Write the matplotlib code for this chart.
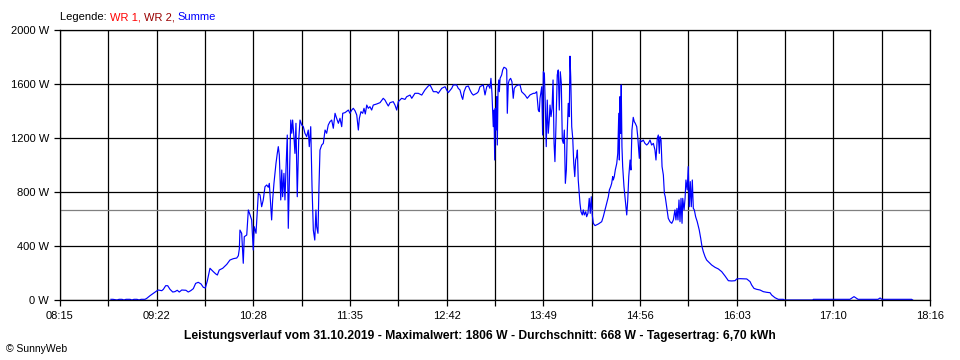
import numpy as np
import matplotlib
matplotlib.use("Agg")
import matplotlib.pyplot as plt

# ---------------- data (time in minutes of day, power in W) ----------------
times_min = [
    530.2, 531.6, 534.4, 535.8, 537.8, 539.2, 540.6, 543.4, 544.7, 546.1, 548.2, 549.6, 551.0, 553.7,
    554.9, 557.2, 559.5, 561.8, 562.9, 565.3, 566.4, 568.0, 569.4, 571.0, 572.9, 574.4, 576.0, 577.4,
    579.1, 582.0, 583.6, 585.3, 587.1, 588.7, 590.5, 592.4, 594.0, 595.4, 596.8, 598.6, 600.9, 602.6,
    603.7, 605.0, 607.4, 610.2, 612.4, 614.7, 617.1, 618.2, 618.9, 619.3, 620.5, 621.6, 622.3, 624.0,
    625.1, 626.3, 627.4, 628.5, 629.2, 630.4, 632.0, 633.2, 634.3, 635.4, 636.6, 637.8, 638.9, 639.6,
    640.6, 641.2, 641.9, 642.8, 644.2, 645.1, 645.8, 646.5, 647.5, 648.2, 648.8, 649.7, 650.4, 651.1,
    652.0, 652.7, 653.4, 654.4, 655.1, 655.7, 656.6, 657.3, 658.0, 658.9, 659.9, 660.8, 662.0, 663.1,
    664.2, 665.4, 666.5, 667.2, 668.2, 669.1, 670.0, 671.0, 671.8, 672.3, 673.2, 673.9, 674.6, 675.8,
    676.9, 678.1, 679.2, 680.3, 681.5, 682.7, 683.8, 685.0, 686.1, 687.3, 688.4, 689.6, 690.3, 691.9,
    694.2, 695.3, 696.5, 697.6, 698.8, 700.0, 701.1, 701.8, 702.9, 704.1, 705.0, 705.9, 706.9, 708.0,
    709.1, 710.3, 711.4, 713.8, 716.1, 718.3, 719.5, 720.7, 721.8, 723.0, 725.2, 726.4, 727.6, 728.7,
    731.0, 733.3, 734.5, 736.8, 738.0, 740.2, 742.5, 744.9, 747.1, 749.4, 750.6, 751.8, 752.9, 755.2,
    756.3, 758.7, 761.0, 762.1, 763.2, 765.6, 766.7, 769.0, 770.1, 771.3, 772.5, 773.2, 774.1, 775.5,
    777.1, 778.2, 779.4, 780.5, 782.9, 784.0, 785.1, 787.4, 788.6, 789.8, 790.9, 792.0, 792.7, 793.4,
    794.3, 794.8, 795.3, 795.7, 796.2, 796.7, 797.1, 797.6, 798.1, 798.5, 799.0, 800.1, 800.8, 801.7,
    803.1, 803.6, 804.0, 804.7, 805.4, 806.3, 807.2, 808.1, 808.8, 810.0, 811.6, 812.8, 813.9, 815.0,
    816.2, 817.8, 819.7, 822.0, 823.1, 824.3, 825.4, 826.1, 826.6, 827.8, 828.4, 828.9, 829.6, 830.2,
    830.9, 831.6, 832.3, 833.0, 833.5, 834.2, 834.9, 835.6, 836.3, 836.9, 837.6, 838.5, 839.2, 839.9,
    840.6, 841.3, 842.0, 842.7, 843.4, 844.1, 844.8, 845.4, 846.1, 846.8, 847.3, 847.8, 848.5, 849.2,
    849.9, 850.6, 851.2, 851.9, 852.4, 853.0, 853.7, 854.2, 854.9, 855.8, 856.5, 857.2, 858.2, 858.8,
    859.7, 860.6, 861.3, 862.0, 862.7, 863.4, 864.6, 866.9, 869.2, 870.3, 871.5, 872.7, 873.8, 874.5,
    875.4, 876.1, 876.8, 877.2, 877.9, 878.6, 879.6, 880.3, 881.0, 881.4, 881.8, 882.3, 882.7, 883.2,
    883.7, 884.6, 885.5, 886.5, 887.2, 887.9, 888.8, 889.4, 890.1, 891.0, 891.7, 892.4, 893.4, 894.1,
    894.8, 895.2, 895.7, 896.8, 897.9, 899.1, 900.3, 901.4, 902.6, 903.7, 904.9, 906.0, 906.7, 907.6,
    908.3, 909.0, 909.5, 910.2, 910.9, 911.8, 912.5, 913.1, 914.1, 915.2, 916.4, 917.6, 918.7, 919.8,
    920.5, 921.2, 921.9, 922.6, 923.3, 924.0, 924.7, 925.2, 926.1, 926.8, 927.4, 928.3, 929.0, 929.7,
    930.4, 931.1, 931.8, 932.5, 933.2, 934.1, 935.2, 936.6, 937.6, 938.5, 939.4, 940.6, 941.7, 943.5,
    945.2, 947.5, 949.8, 952.1, 954.4, 956.7, 959.0, 961.3, 962.5, 964.7, 969.4, 971.7, 972.8, 974.4,
    976.3, 978.6, 980.8, 983.2, 985.5, 986.6, 988.9, 991.2, 994.7, 995.5, 1015.0, 1015.4, 1040.7, 1042.1,
    1043.5, 1044.9, 1046.3, 1060.1, 1061.5, 1062.8, 1083.3, 1084.0,
]
power_w = [
    5, 5, 0, 5, 5, 0, 5, 5, 0, 5, 5, 0, 5, 5,
    12, 32, 50, 67, 74, 69, 79, 106, 106, 79, 59, 62, 72, 59,
    74, 72, 59, 69, 84, 123, 131, 119, 94, 89, 143, 235, 210, 193,
    185, 222, 235, 264, 296, 306, 311, 328, 380, 518, 494, 272, 469, 481,
    667, 630, 593, 370, 543, 494, 790, 778, 691, 741, 839, 852, 835, 864,
    691, 593, 741, 864, 1012, 1086, 1136, 1074, 741, 963, 765, 938, 741, 963,
    1222, 531, 864, 1333, 1235, 1333, 1210, 1086, 1309, 765, 1185, 1333, 1296, 1284,
    1235, 1210, 1259, 1136, 1284, 839, 518, 444, 667, 543, 494, 839, 1111, 1148,
    1160, 1259, 1235, 1296, 1321, 1333, 1272, 1383, 1346, 1309, 1346, 1284, 1383, 1388,
    1407, 1383, 1407, 1420, 1402, 1370, 1259, 1346, 1395, 1383, 1420, 1378, 1444, 1420,
    1432, 1407, 1444, 1452, 1462, 1494, 1481, 1457, 1437, 1462, 1469, 1444, 1407, 1469,
    1494, 1486, 1506, 1518, 1494, 1531, 1531, 1518, 1556, 1585, 1593, 1568, 1543, 1543,
    1531, 1568, 1580, 1556, 1536, 1568, 1593, 1593, 1568, 1556, 1506, 1486, 1543, 1580,
    1585, 1556, 1531, 1518, 1531, 1543, 1580, 1593, 1519, 1580, 1593, 1568, 1642, 1531,
    1284, 1407, 1037, 1420, 1259, 1506, 1148, 1556, 1630, 1543, 1642, 1667, 1704, 1724,
    1716, 1704, 1383, 1605, 1630, 1642, 1617, 1494, 1568, 1585, 1593, 1593, 1543, 1531,
    1519, 1494, 1519, 1531, 1531, 1543, 1407, 1395, 1494, 1580, 1222, 1691, 1679, 1457,
    1136, 1481, 1235, 1333, 1444, 1358, 1420, 1630, 1160, 1025, 1284, 1667, 1704, 1407,
    1691, 1605, 1185, 1160, 1259, 864, 963, 1235, 1457, 1358, 1806, 1654, 1284, 1198,
    1012, 914, 1037, 1062, 1111, 889, 790, 716, 654, 630, 667, 630, 654, 617,
    642, 753, 642, 765, 630, 568, 551, 563, 580, 617, 667, 716, 765, 815,
    839, 864, 914, 889, 914, 963, 1012, 1086, 1383, 1037, 1506, 1235, 1593, 1136,
    988, 839, 741, 630, 741, 914, 1037, 963, 1259, 1353, 1321, 1309, 1284, 1210,
    1111, 1049, 1185, 1173, 1185, 1160, 1148, 1160, 1185, 1148, 1160, 1111, 1037, 1198,
    1222, 1086, 1210, 1185, 988, 926, 790, 765, 691, 605, 580, 568, 593, 667,
    593, 679, 593, 741, 580, 753, 568, 753, 667, 753, 889, 815, 988, 691,
    877, 691, 889, 679, 667, 617, 580, 518, 457, 395, 358, 321, 296, 277,
    259, 242, 230, 210, 178, 143, 141, 143, 156, 158, 156, 136, 111, 86,
    79, 74, 62, 57, 54, 37, 17, 5, 5, 0, 0, 5, 5, 15,
    25, 15, 5, 5, 15, 5, 5, 0,
]

x_tick_labels = ["08:15", "09:22", "10:28", "11:35", "12:42", "13:49",
                 "14:56", "16:03", "17:10", "18:16"]
axis_start_min = 8 * 60 + 15
axis_end_min = 18 * 60 + 16
y_ticks_w = [0, 400, 800, 1200, 1600, 2000]

max_w = 1806
avg_w = 668
yield_kwh = "6,70"
date_str = "31.10.2019"

# ---------------- figure ----------------
plt.rcParams['font.family'] = ['Liberation Sans', 'DejaVu Sans']
fig = plt.figure(figsize=(9.6, 3.6), dpi=100)
fig.patch.set_facecolor('white')
ax = fig.add_axes([60 / 960, 60 / 360, 870 / 960, 270 / 360])

ax.set_xlim(axis_start_min, axis_end_min)
ax.set_ylim(0, 2000)

# grid
xt = np.linspace(axis_start_min, axis_end_min, 19)
ax.set_xticks(xt)
ax.set_xticklabels([x_tick_labels[i // 2] if i % 2 == 0 else "" for i in range(19)])
ax.set_yticks(y_ticks_w)
ax.set_yticklabels([f"{v} W" for v in y_ticks_w])
for v in xt:
    ax.axvline(v, color='black', lw=0.9, zorder=1)
for v in y_ticks_w:
    ax.axhline(v, color='black', lw=0.9, zorder=1)

ax.axhline(avg_w, color='#808080', lw=0.9, zorder=1.5)

ax.plot(times_min, power_w, color='#0000ff', lw=0.85, zorder=2)

for s in ax.spines.values():
    s.set_color('black')
    s.set_linewidth(0.9)
    s.set_zorder(3)

ax.tick_params(axis='x', length=4, width=0.9, pad=4, labelsize=8, colors='black')
ax.tick_params(axis='y', length=4, width=0.9, pad=4, labelsize=8, colors='black')

# legend line at top
t0 = fig.text(60 / 960, 1 - 17 / 360, "Legende: ", fontsize=8, color='black', va='center', ha='left')
prev = t0
for txt, col in [("WR 1, ", '#ff0000'), ("WR 2, ", '#990000'), ("Summe", '#0000ff')]:
    prev = ax.annotate(txt, xy=(1, 0), xycoords=prev, va='bottom', ha='left',
                       fontsize=8, color=col, annotation_clip=False)

# title
fig.text(0.5, 1 - 336.5 / 360,
         f"Leistungsverlauf vom {date_str} - Maximalwert: {max_w} W - Durchschnitt: {avg_w} W - Tagesertrag: {yield_kwh} kWh",
         fontsize=8.7, fontweight='bold', ha='center', va='center')

fig.text(6 / 960, 1 - 349 / 360, "\u00a9 SunnyWeb", fontsize=7.5, ha='left', va='center')

fig.savefig("out.png", dpi=100, facecolor='white')
